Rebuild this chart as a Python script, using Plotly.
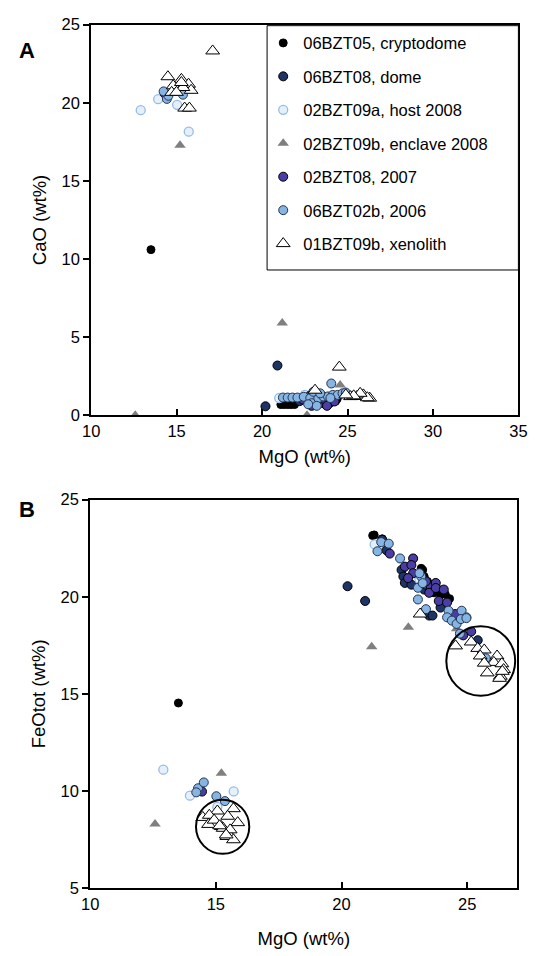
import plotly.graph_objects as go

# ---------------- Panel A: CaO vs MgO ----------------
a_bzt05_x = [13.5, 21.1, 21.3, 21.5, 21.7, 21.9, 24.4, 24.3, 23.0]
a_bzt05_y = [10.6, 0.68, 0.68, 0.68, 0.68, 0.68, 1.05, 0.9, 0.75]

a_bzt08d_x = [20.2, 20.9, 22.6, 23.1, 23.7, 24.0, 22.2]
a_bzt08d_y = [0.57, 3.18, 1.12, 0.67, 0.71, 1.0, 0.9]

a_host_x = [12.9, 13.92, 15.03, 15.71, 21.0, 22.5, 23.1]
a_host_y = [19.53, 20.23, 19.87, 18.15, 1.1, 1.3, 0.9]

a_encl_x = [12.58, 15.2, 21.18, 22.63, 24.57]
a_encl_y = [0.0, 17.29, 5.9, 0.0, 1.93]

a_2007_x = [14.3, 22.4, 22.8, 23.39, 23.95, 24.24, 23.6, 22.9, 23.8]
a_2007_y = [20.6, 1.0, 1.25, 0.77, 0.77, 0.88, 1.05, 0.6, 0.6]

a_2006_x = [14.43, 14.52, 15.37, 14.24, 21.22, 21.5, 21.78, 22.07, 22.44, 22.82, 22.91,
            23.29, 23.58, 23.86, 24.14, 24.43, 24.71, 24.05, 23.0, 23.4, 23.2, 22.7, 24.9, 24.0]
a_2006_y = [20.25, 20.45, 20.52, 20.73, 1.13, 1.13, 1.13, 1.13, 1.18, 1.09, 0.77,
            1.09, 1.2, 1.2, 1.3, 1.3, 1.4, 2.03, 1.5, 1.4, 0.6, 0.7, 1.45, 1.1]

a_xeno_x = [14.49, 15.28, 14.8, 15.7, 15.85, 15.37, 14.71, 15.47, 15.75, 15.28, 14.99, 17.11,
            23.1, 24.52, 25.18, 25.55, 25.93, 26.3, 26.16, 25.74, 25.36, 24.9]
a_xeno_y = [21.67, 21.5, 21.09, 21.19, 20.8, 20.98, 20.67, 19.66, 19.66, 21.3, 20.67, 23.32,
            1.6, 3.08, 1.19, 1.2, 1.3, 1.09, 1.12, 1.4, 1.24, 1.3]

# ---------------- Panel B: FeOtot vs MgO ----------------
b_bzt05_x = [13.51, 21.30, 21.24, 21.62, 22.85, 23.17, 23.29, 23.42, 23.62, 23.75, 23.87,
             24.13, 23.23, 23.94, 23.68, 24.3]
b_bzt05_y = [14.53, 23.18, 23.15, 22.98, 21.97, 21.46, 21.04, 20.79, 20.62, 20.71, 20.37,
             20.12, 21.38, 20.12, 20.2, 19.9]

b_bzt08d_x = [20.24, 20.94, 21.62, 21.79, 22.39, 22.46, 22.52, 22.78, 23.29, 23.94, 23.49,
              23.62, 23.17, 25.42]
b_bzt08d_y = [20.54, 19.78, 22.93, 22.39, 21.38, 21.04, 20.71, 20.62, 20.37, 19.44, 19.03,
              19.03, 21.04, 17.76]

b_host_x = [12.91, 13.97, 15.71, 15.06, 21.32, 23.1]
b_host_y = [11.1, 9.76, 9.98, 9.18, 22.69, 20.9]

b_encl_x = [12.58, 15.22, 21.2, 22.66, 24.58]
b_encl_y = [8.3, 10.91, 17.42, 18.43, 18.35]

b_2007_x = [14.45, 21.92, 22.85, 22.52, 22.78, 22.85, 22.65, 23.36, 23.55, 23.75, 23.36,
            23.49, 23.75, 24.07, 23.87, 24.2, 24.52, 25.16, 24.84]
b_2007_y = [9.97, 22.22, 21.97, 21.55, 21.63, 21.21, 20.96, 20.62, 20.54, 20.71, 20.79,
            20.2, 20.45, 20.37, 19.78, 19.7, 19.11, 18.21, 18.01]

b_2006_x = [14.29, 14.52, 14.22, 15.02, 15.36, 21.58, 21.88, 21.43, 22.33, 23.17, 23.04,
            23.1, 23.23, 23.04, 23.36, 24.26, 24.78, 24.97, 24.2, 24.39, 24.58, 24.75,
            24.97, 24.71, 25.74]
b_2006_y = [10.14, 10.44, 9.93, 9.73, 9.48, 22.81, 22.73, 22.34, 21.97, 21.04, 20.46,
            21.21, 20.7, 19.86, 19.36, 19.28, 19.28, 18.94, 18.94, 18.77, 18.6, 18.85,
            18.9, 18.1, 16.83]

b_xeno_x = [15.06, 15.7, 14.48, 14.74, 15.47, 15.87, 14.71, 14.93, 15.22, 15.29, 15.48,
            15.57, 15.44, 15.7, 15.15, 15.41, 23.13, 24.54, 25.16, 25.42, 25.68, 25.52,
            26.19, 26.06, 25.68, 26.38, 26.45, 25.8, 26.32, 26.29, 26.4]
b_xeno_y = [8.97, 9.09, 8.64, 8.75, 8.7, 8.37, 8.28, 8.5, 8.17, 8.08, 7.83,
            8.0, 7.66, 7.49, 8.21, 7.74, 19.11, 17.47, 17.67, 17.34, 17.26, 16.95,
            16.95, 16.62, 16.58, 16.55, 16.25, 16.08, 15.91, 15.8, 16.16]

# circled groups in panel B: (x0, x1, y0, y1)
b_circles = [(14.21, 16.33, 6.77, 9.55), (24.17, 26.91, 14.9, 18.48)]

names = ["06BZT05, cryptodome", "06BZT08, dome", "02BZT09a, host 2008",
         "02BZT09b, enclave 2008", "02BZT08, 2007", "06BZT02b, 2006", "01BZT09b, xenolith"]

styles = [
    dict(symbol="circle", size=8, color="#000000", line=dict(color="#000000", width=1)),
    dict(symbol="circle", size=9, color="#1e3466", line=dict(color="#000000", width=1)),
    dict(symbol="circle", size=9, color="#e6f0fb", line=dict(color="#93bde8", width=1.3)),
    dict(symbol="triangle-up", size=10, color="#7f7f7f", line=dict(width=0)),
    dict(symbol="circle", size=9, color="#4a3ea6", line=dict(color="#000000", width=1)),
    dict(symbol="circle", size=9, color="#86b4e3", line=dict(color="#243450", width=1)),
    dict(symbol="triangle-up", size=12, color="#ffffff", line=dict(color="#000000", width=1)),
]

a_sets = [(a_bzt05_x, a_bzt05_y), (a_bzt08d_x, a_bzt08d_y), (a_host_x, a_host_y),
          (a_encl_x, a_encl_y), (a_2007_x, a_2007_y), (a_2006_x, a_2006_y), (a_xeno_x, a_xeno_y)]
b_sets = [(b_bzt05_x, b_bzt05_y), (b_bzt08d_x, b_bzt08d_y), (b_host_x, b_host_y),
          (b_encl_x, b_encl_y), (b_2007_x, b_2007_y), (b_2006_x, b_2006_y), (b_xeno_x, b_xeno_y)]

fig = go.Figure()
for i, (nm, st, (ax, ay), (bx, by)) in enumerate(zip(names, styles, a_sets, b_sets)):
    fig.add_trace(go.Scatter(x=ax, y=ay, mode="markers", name=nm, marker=st,
                             legendgroup="g%d" % i, showlegend=True, xaxis="x", yaxis="y"))
    fig.add_trace(go.Scatter(x=bx, y=by, mode="markers", name=nm, marker=st,
                             legendgroup="g%d" % i, showlegend=False, xaxis="x2", yaxis="y2"))

W, H = 539, 956
font = "Liberation Sans, Arial, sans-serif"
axcommon = dict(showline=True, linecolor="black", linewidth=2, mirror=True, showgrid=False,
                zeroline=False, ticklen=6, tickwidth=2, tickcolor="black",
                tickfont=dict(family=font, size=16.5, color="black"))

fig.update_layout(
    width=W, height=H, margin=dict(l=0, r=0, t=0, b=0),
    paper_bgcolor="white", plot_bgcolor="white",
    font=dict(family=font, color="black"),
    xaxis=dict(domain=[85 / W, 527 / W], range=[10, 35], dtick=5, ticks="inside",
               anchor="y", title=dict(text="MgO (wt%)", font=dict(size=18.5), standoff=11),
               **axcommon),
    yaxis=dict(domain=[1 - 414 / H, 1 - 16 / H], range=[0, 25], dtick=5, ticks="outside",
               anchor="x", title=dict(text="CaO (wt%)", font=dict(size=18.5), standoff=10),
               **axcommon),
    xaxis2=dict(domain=[84 / W, 526 / W], range=[10, 27], dtick=5, ticks="inside",
                anchor="y2", title=dict(text="MgO (wt%)", font=dict(size=18.5), standoff=20),
                **axcommon),
    yaxis2=dict(domain=[1 - 896 / H, 1 - 500 / H], range=[5, 25], dtick=5, ticks="outside",
                anchor="x2", title=dict(text="FeOtot (wt%)", font=dict(size=18.5), standoff=10),
                **axcommon),
    legend=dict(x=263 / W, y=1 - 17 / H, xanchor="left", yanchor="top",
                bgcolor="rgba(0,0,0,0)", borderwidth=0,
                font=dict(family=font, size=16.5, color="black"),
                tracegroupgap=9, itemsizing="trace"),
    showlegend=True,
)

# legend frame
fig.add_shape(type="rect", xref="paper", yref="paper", x0=267 / W, x1=527 / W,
              y0=1 - 266 / H, y1=1 - 17 / H, line=dict(color="black", width=1),
              fillcolor="white", layer="above")

for (x0, x1, y0, y1) in b_circles:
    fig.add_shape(type="circle", xref="x2", yref="y2", x0=x0, x1=x1, y0=y0, y1=y1,
                  line=dict(color="black", width=2), layer="above")

fig.add_annotation(x=8 / W, y=1 - 28 / H, xref="paper", yref="paper", text="<b>A</b>",
                   showarrow=False, font=dict(family=font, size=22), xanchor="left")
fig.add_annotation(x=8 / W, y=1 - 510 / H, xref="paper", yref="paper", text="<b>B</b>",
                   showarrow=False, font=dict(family=font, size=22), xanchor="left")

fig.write_html("out.html")
